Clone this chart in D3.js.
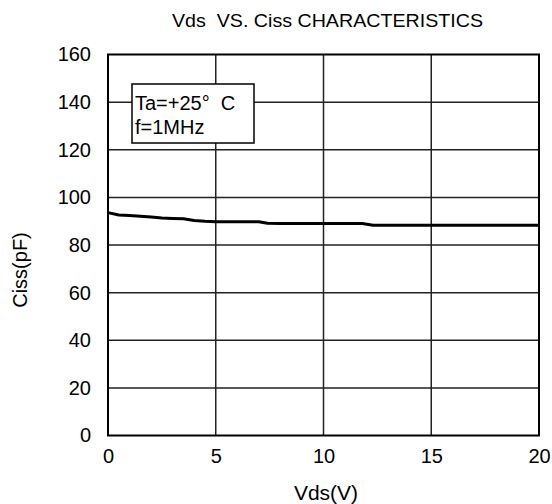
<!DOCTYPE html>
<html>
<head>
<meta charset="utf-8">
<script src="https://cdn.jsdelivr.net/npm/d3@7"></script>
<style>
  html, body { margin: 0; padding: 0; background: #fff; }
  svg { display: block; font-family: "Liberation Sans", Arial, sans-serif; }
</style>
</head>
<body>
<svg id="chart" width="552" height="504"></svg>
<script>
// Ciss versus drain-source voltage, Ta = +25 °C, f = 1 MHz
const vds  = [0, 0.5, 1.0, 1.5, 2.0, 2.5, 3.0, 3.5, 4.0, 4.5, 5, 6, 7, 7.4, 8, 9, 10, 11, 11.8, 12.3, 13, 14, 15, 16, 17, 18, 19, 20];
const ciss = [93.6, 92.6, 92.4, 92.1, 91.8, 91.3, 91.1, 91.0, 90.3, 90.0, 89.8, 89.8, 89.8, 89.1, 89.0, 89.0, 89.0, 89.0, 89.0, 88.3, 88.3, 88.3, 88.3, 88.3, 88.3, 88.3, 88.3, 88.3];
const xTicks = [0, 5, 10, 15, 20];
const yTicks = [0, 20, 40, 60, 80, 100, 120, 140, 160];
const legendLines = ["Ta=+25°  C", "f=1MHz"];

const svg = d3.select("#chart");
const plotL = 108, plotR = 539, plotT = 54.5, plotB = 435.5;

const x = d3.scaleLinear().domain([0, 20]).range([plotL, plotR]);
const y = d3.scaleLinear().domain([0, 160]).range([plotB, plotT]);

// grid
const grid = svg.append("g").attr("stroke", "#222").attr("stroke-width", 1.5);
grid.selectAll(".vx").data(xTicks.slice(1, -1)).join("line")
  .attr("x1", d => x(d)).attr("x2", d => x(d)).attr("y1", plotT).attr("y2", plotB);
grid.selectAll(".hy").data(yTicks.slice(1, -1)).join("line")
  .attr("x1", plotL).attr("x2", plotR).attr("y1", d => y(d)).attr("y2", d => y(d));

// frame
svg.append("rect").attr("x", plotL).attr("y", plotT)
  .attr("width", plotR - plotL).attr("height", plotB - plotT)
  .attr("fill", "none").attr("stroke", "#000").attr("stroke-width", 2);

// tick labels from d3 axes (domain and tick marks hidden)
const xAxis = svg.append("g").attr("transform", `translate(0,${plotB})`)
  .call(d3.axisBottom(x).tickValues(xTicks).tickSize(0).tickPadding(13).tickFormat(d3.format("d")));
const yAxis = svg.append("g").attr("transform", `translate(${plotL},0)`)
  .call(d3.axisLeft(y).tickValues(yTicks).tickSize(0).tickPadding(17).tickFormat(d3.format("d")));
[xAxis, yAxis].forEach(a => {
  a.select(".domain").remove();
  a.selectAll("text").attr("font-size", 20).attr("fill", "#000")
    .attr("font-family", "Liberation Sans, Arial, sans-serif");
});

// curve
const pts = vds.map((v, i) => [v, ciss[i]]);
svg.append("path").datum(pts)
  .attr("fill", "none").attr("stroke", "#000").attr("stroke-width", 3)
  .attr("stroke-linejoin", "round")
  .attr("d", d3.line().x(d => x(d[0])).y(d => y(d[1])));

// legend box
svg.append("rect").attr("x", 132).attr("y", 84).attr("width", 122).attr("height", 59)
  .attr("fill", "#fff").attr("stroke", "#000").attr("stroke-width", 1.5);
svg.selectAll(".leg").data(legendLines).join("text")
  .attr("x", 135).attr("y", (d, i) => 110 + i * 24)
  .attr("font-size", 20).attr("fill", "#000")
  .attr("xml:space", "preserve")
  .text(d => d);

// titles
svg.append("text").attr("x", 327.5).attr("y", 26.5).attr("text-anchor", "middle")
  .attr("font-size", 19).attr("fill", "#000")
  .attr("textLength", 311).attr("lengthAdjust", "spacingAndGlyphs")
  .attr("xml:space", "preserve")
  .text("Vds  VS. Ciss CHARACTERISTICS");
svg.append("text").attr("x", 326).attr("y", 500).attr("text-anchor", "middle")
  .attr("font-size", 21).attr("fill", "#000").text("Vds(V)");
svg.append("text").attr("transform", "translate(27,270) rotate(-90)")
  .attr("text-anchor", "middle").attr("font-size", 20).attr("fill", "#000")
  .text("Ciss(pF)");
</script>
</body>
</html>
